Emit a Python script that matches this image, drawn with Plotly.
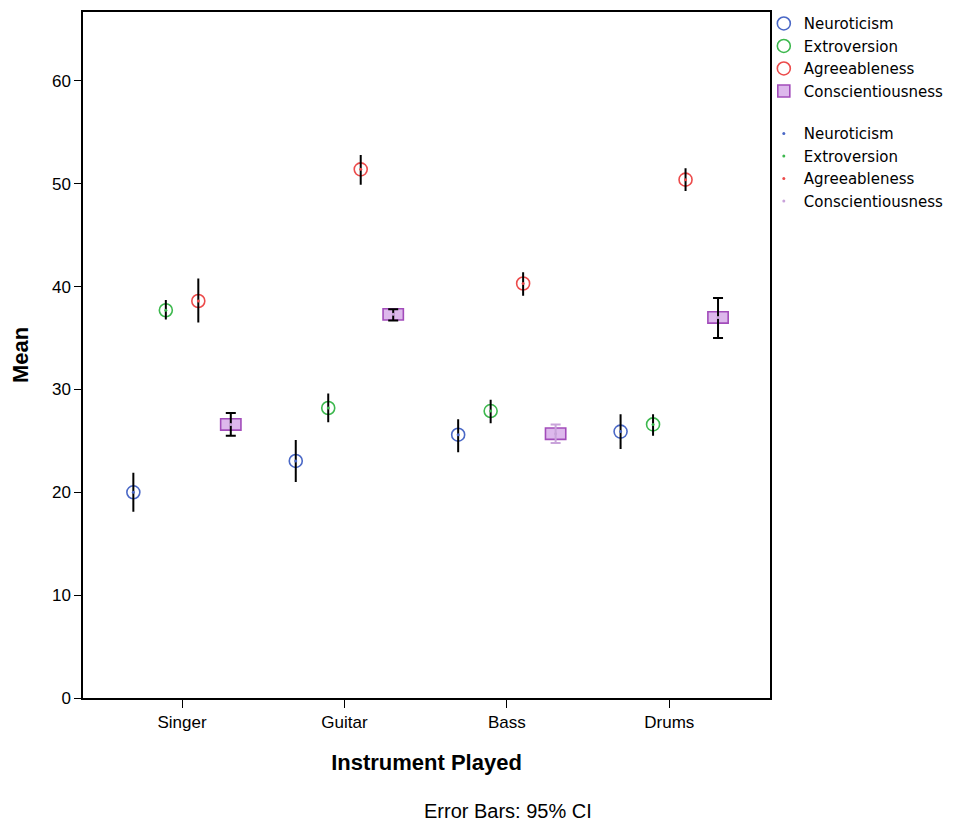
import plotly.graph_objects as go

categories = ["Singer", "Guitar", "Bass", "Drums"]
series = ["Neuroticism", "Extroversion", "Agreeableness", "Conscientiousness"]

neuro_mean = [20.0, 23.05, 25.6, 25.9]
neuro_lo = [18.2, 21.1, 24.0, 24.3]
neuro_hi = [21.8, 25.0, 27.0, 27.5]

extro_mean = [37.7, 28.2, 27.9, 26.6]
extro_lo = [36.9, 26.9, 26.8, 25.6]
extro_hi = [38.6, 29.5, 28.9, 27.5]

agree_mean = [38.6, 51.4, 40.3, 50.4]
agree_lo = [36.6, 50.0, 39.2, 49.4]
agree_hi = [40.7, 52.7, 41.3, 51.4]

consc_mean = [26.6, 37.3, 25.7, 37.0]
consc_lo = [25.5, 36.7, 24.8, 35.0]
consc_hi = [27.7, 37.8, 26.6, 38.9]

y_ticks = [0, 10, 20, 30, 40, 50, 60]

# styles
colors = ["#4A68C6", "#3DB84E", "#EC4B4B", "#A64FBE"]
dot_colors = ["#4A68C6", "#3DB84E", "#EC4B4B", "#C9A3DA"]
offsets = [-0.3, -0.1, 0.1, 0.3]
BOX_H = 1.1
BOX_W = 0.125
FONT = "Liberation Sans, Arial, sans-serif"
LEGEND_FONT = "DejaVu Sans, Liberation Sans, sans-serif"

means = [neuro_mean, extro_mean, agree_mean, consc_mean]
los = [neuro_lo, extro_lo, agree_lo, consc_lo]
his = [neuro_hi, extro_hi, agree_hi, consc_hi]

fig = go.Figure()

# group 1: markers
for k, name in enumerate(series):
    xs = [i + offsets[k] for i in range(len(categories))]
    if k < 3:
        fig.add_trace(go.Scatter(
            x=xs, y=means[k], mode="markers", name=name,
            legendgroup="g1", legendrank=k + 1,
            marker=dict(symbol="circle-open", size=13, color=colors[k],
                        line=dict(width=1.6, color=colors[k])),
            hoverinfo="skip"))
    else:
        fig.add_trace(go.Bar(
            x=xs, y=[BOX_H] * len(xs), base=[m - BOX_H / 2 for m in means[k]],
            width=BOX_W, name=name, legendgroup="g1", legendrank=k + 1,
            marker=dict(color="#DDB8EC", line=dict(color="#A24CBA", width=1.6)),
            hoverinfo="skip"))

# group 2: mean dots with 95% CI error bars
for k, name in enumerate(series):
    xs = [i + offsets[k] for i in range(len(categories))]
    plus = [h - m for h, m in zip(his[k], means[k])]
    minus = [m - l for m, l in zip(means[k], los[k])]
    cap = 5 if k == 3 else 1
    # Bass conscientiousness CI is drawn in light purple in the reference
    for i in range(len(categories)):
        ecolor = "#C9A3DA" if (k == 3 and i == 2) else "black"
        fig.add_trace(go.Scatter(
            x=[xs[i]], y=[means[k][i]], mode="markers", name=name,
            legendgroup="g2", legendrank=10 + k, showlegend=(i == 0),
            marker=dict(symbol="circle", size=3, color=dot_colors[k]),
            error_y=dict(type="data", symmetric=False, array=[plus[i]],
                         arrayminus=[minus[i]], color=ecolor,
                         thickness=2, width=cap),
            hoverinfo="skip"))

fig.update_layout(
    width=949, height=815,
    margin=dict(l=75, r=187, t=4, b=125, autoexpand=False),
    paper_bgcolor="white", plot_bgcolor="white",
    barmode="overlay",
    font=dict(family=FONT, size=17, color="black"),
    showlegend=True,
    legend=dict(x=0.991, xanchor="left", y=1.007, yanchor="top",
                traceorder="grouped", tracegroupgap=20,
                font=dict(family=LEGEND_FONT, size=15, color="black"),
                itemwidth=30, bgcolor="rgba(0,0,0,0)"),
    xaxis=dict(
        range=[-0.61, 3.62], tickmode="array",
        tickvals=list(range(len(categories))), ticktext=categories,
        showgrid=False, zeroline=False, showline=True, mirror=True,
        linecolor="black", linewidth=1.5, ticks="outside", ticklen=8,
        tickcolor="black", tickwidth=1.2,
        tickfont=dict(family=FONT, size=17),
        title=dict(text="<b>Instrument Played</b>", standoff=23,
                   font=dict(family=FONT, size=22))),
    yaxis=dict(
        range=[0, 66.7], tickmode="array", tickvals=y_ticks,
        showgrid=False, zeroline=False, showline=True, mirror=True,
        linecolor="black", linewidth=1.5, ticks="outside", ticklen=7,
        tickcolor="black", tickwidth=1.2,
        tickfont=dict(family=FONT, size=17),
        title=dict(text="<b>Mean</b>", standoff=22,
                   font=dict(family=FONT, size=22))),
    annotations=[dict(text="Error Bars: 95% CI", xref="paper", yref="paper",
                      x=0.619, y=-0.165, xanchor="center", yanchor="middle",
                      showarrow=False, font=dict(family=FONT, size=20))],
)

fig.write_html("out.html")
